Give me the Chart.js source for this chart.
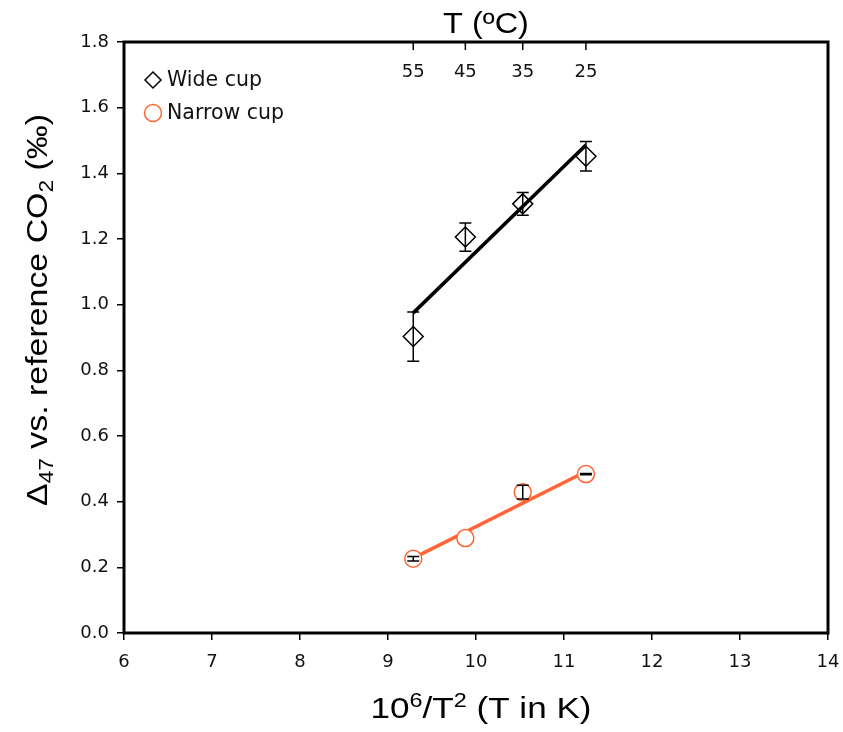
<!DOCTYPE html>
<html>
<head>
<meta charset="utf-8">
<script src="https://cdn.jsdelivr.net/npm/chart.js@4"></script>
<style>
  body { margin: 0; background: #fff; }
</style>
</head>
<body>
<canvas id="chart" width="843" height="732"></canvas>
<script>
// x = 10^6/T^2 for 55, 45, 35, 25 ºC
const xValues = [9.287, 9.879, 10.531, 11.249];
const topTickLabels = ['55', '45', '35', '25'];

const wideCup = [0.903, 1.206, 1.307, 1.452];
const wideErr = [0.075, 0.043, 0.035, 0.045];
const wideFit = [0.975, 1.486];

const narrowCup = [0.226, 0.289, 0.429, 0.484];
const narrowErr = [0.007, 0.0, 0.021, 0.002];
const narrowFit = [0.228, 0.492];

const fitX = [9.287, 11.249];
const yTicks = [0, 0.2, 0.4, 0.6, 0.8, 1.0, 1.2, 1.4, 1.6, 1.8];

const orange = '#ff6633';
const tickFont = { family: 'DejaVu Sans', size: 18 };

function pts(xs, ys) {
  return xs.map((x, i) => ({ x: x, y: ys[i] }));
}

// error bars, frame, top axis, titles, legend
const extras = {
  id: 'extras',
  afterDatasetsDraw(chart) {
    const ctx = chart.ctx;
    const xs = chart.scales.x;
    const ys = chart.scales.y;
    const a = chart.chartArea;

    ctx.save();
    ctx.strokeStyle = '#000';
    ctx.lineWidth = 1.5;
    const bars = [[wideCup, wideErr], [narrowCup, narrowErr]];
    bars.forEach(([vals, errs]) => {
      vals.forEach((v, i) => {
        if (!errs[i]) return;
        const px = xs.getPixelForValue(xValues[i]);
        const top = ys.getPixelForValue(v + errs[i]);
        const bot = ys.getPixelForValue(v - errs[i]);
        ctx.beginPath();
        ctx.moveTo(px, top); ctx.lineTo(px, bot);
        ctx.moveTo(px - 6, top); ctx.lineTo(px + 6, top);
        ctx.moveTo(px - 6, bot); ctx.lineTo(px + 6, bot);
        ctx.stroke();
      });
    });

    // frame
    ctx.lineWidth = 3;
    ctx.strokeRect(a.left, a.top, a.right - a.left, a.bottom - a.top);

    // top temperature axis
    ctx.lineWidth = 1.5;
    ctx.fillStyle = '#111';
    ctx.font = '18px "DejaVu Sans"';
    ctx.textAlign = 'center';
    ctx.textBaseline = 'middle';
    xValues.forEach((x, i) => {
      const px = xs.getPixelForValue(x);
      ctx.beginPath();
      ctx.moveTo(px, a.top); ctx.lineTo(px, a.top + 8);
      ctx.stroke();
      ctx.fillText(topTickLabels[i], px, a.top + 30);
    });

    drawRich(ctx, [['T (ºC)', 0]], 29, 1.12, 486, 33);

    // x title with superscripts
    drawRich(ctx, [['10', 0], ['6', -1], ['/T', 0], ['2', -1], [' (T in K)', 0]], 30, 1.17, 481, 718);

    // y title with subscripts, rotated
    ctx.save();
    ctx.translate(47, 310);
    ctx.rotate(-Math.PI / 2);
    drawRich(ctx, [['Δ', 0], ['47', 1], [' vs. reference CO', 0], ['2', 1], [' (‰)', 0]], 30, 1.13, 0, 0);
    ctx.restore();

    // legend
    ctx.lineWidth = 1.5;
    ctx.strokeStyle = '#000';
    ctx.beginPath();
    ctx.moveTo(153, 72); ctx.lineTo(161, 80); ctx.lineTo(153, 88); ctx.lineTo(145, 80); ctx.closePath();
    ctx.stroke();
    ctx.strokeStyle = orange;
    ctx.beginPath();
    ctx.arc(153, 113, 8.5, 0, Math.PI * 2);
    ctx.stroke();
    ctx.fillStyle = '#111';
    ctx.font = '20.5px "DejaVu Sans"';
    ctx.textAlign = 'left';
    ctx.textBaseline = 'middle';
    ctx.fillText('Wide cup', 167, 81);
    ctx.fillText('Narrow cup', 167, 114);
    ctx.restore();
  }
};

// parts: [text, shift] shift -1 superscript, 1 subscript, 0 normal; centered at cx,
// stretched along the text by sx
function drawRich(ctx, parts, size, sx, cx, cy) {
  const small = Math.round(size * 0.68);
  let total = 0;
  parts.forEach(([t, s]) => {
    ctx.font = (s ? small : size) + 'px "Liberation Sans"';
    total += ctx.measureText(t).width;
  });
  ctx.save();
  ctx.translate(cx, cy);
  ctx.scale(sx, 1);
  let x = -total / 2;
  ctx.textAlign = 'left';
  ctx.textBaseline = 'alphabetic';
  ctx.fillStyle = '#000';
  parts.forEach(([t, s]) => {
    ctx.font = (s ? small : size) + 'px "Liberation Sans"';
    const dy = s === -1 ? -size * 0.38 : (s === 1 ? size * 0.2 : 0);
    ctx.fillText(t, x, dy);
    x += ctx.measureText(t).width;
  });
  ctx.restore();
}

new Chart(document.getElementById('chart'), {
  type: 'scatter',
  data: {
    datasets: [
      {
        label: 'Wide cup',
        data: pts(xValues, wideCup),
        pointStyle: 'rectRot',
        pointRadius: 10,
        pointBorderWidth: 1.5,
        pointBorderColor: '#000',
        pointBackgroundColor: 'rgba(255,255,255,0)',
        showLine: false
      },
      {
        label: 'Wide fit',
        data: pts(fitX, wideFit),
        showLine: true,
        borderColor: '#000',
        borderWidth: 3.5,
        pointRadius: 0
      },
      {
        label: 'Narrow cup',
        data: pts(xValues, narrowCup),
        pointStyle: 'circle',
        pointRadius: 8.5,
        pointBorderWidth: 1.5,
        pointBorderColor: orange,
        pointBackgroundColor: '#fff',
        showLine: false
      },
      {
        label: 'Narrow fit',
        data: pts(fitX, narrowFit),
        showLine: true,
        borderColor: orange,
        borderWidth: 3.5,
        pointRadius: 0
      }
    ]
  },
  options: {
    responsive: false,
    animation: false,
    layout: { padding: { top: 42, right: 15, left: 0, bottom: 0 } },
    plugins: { legend: { display: false }, tooltip: { enabled: false } },
    scales: {
      x: {
        type: 'linear',
        min: 6,
        max: 14,
        border: { display: false },
        grid: { drawOnChartArea: false, drawTicks: true, tickLength: 7, color: '#000', lineWidth: 1.5 },
        ticks: { stepSize: 1, color: '#111', font: tickFont, padding: 12 },
        afterFit(scale) {
          scale.height = 99;
          scale.paddingLeft = 0;
          scale.paddingRight = 0;
        }
      },
      y: {
        min: 0,
        max: 1.8,
        border: { display: false },
        grid: { drawOnChartArea: false, drawTicks: true, tickLength: 7, color: '#000', lineWidth: 1.5 },
        afterBuildTicks(scale) { scale.ticks = yTicks.map(v => ({ value: v })); },
        ticks: {
          color: '#111',
          font: tickFont,
          padding: 8,
          callback: v => v.toFixed(1)
        },
        afterFit(scale) {
          scale.width = 124;
          scale.paddingTop = 0;
          scale.paddingBottom = 0;
        }
      }
    }
  },
  plugins: [extras]
});
</script>
</body>
</html>
